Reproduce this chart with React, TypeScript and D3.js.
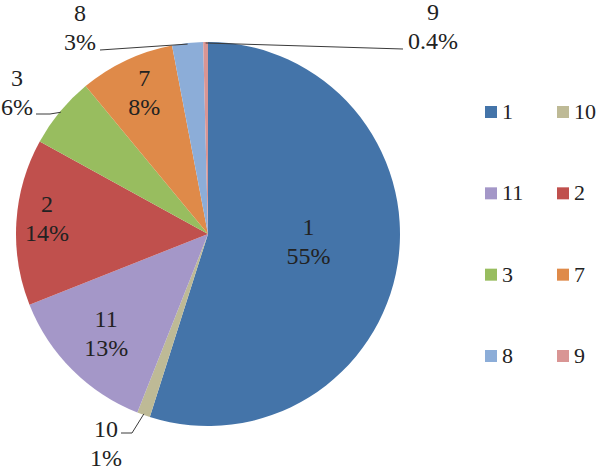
import React, { useEffect } from 'react'
import * as d3 from 'd3'

// slice order = legend order (text sort)
const categories = ['1', '10', '11', '2', '3', '7', '8', '9']
const shares = [54.9, 1.1, 13.0, 14.0, 6.0, 8.0, 2.6, 0.4]
const colors = ['#4474A9', '#BEBA96', '#A497C8', '#C0504D', '#98BD5F', '#DF8A49', '#8CADD8', '#D99594']

const width = 600
const height = 472
const cx = 208
const cy = 234
const radius = 192
const font = "'Liberation Serif', 'Times New Roman', Times, serif"

// where each label sits: inside ones by radius factor, outside ones at a fixed spot with a leader
const labelLayout: Record<string, any> = {
    '1': { k: 0.53, dy: -8 },
    '11': { k: 0.75, dy: -2 },
    '2': { k: 0.84, dy: -5 },
    '7': { k: 0.78, dy: -5 },
    '3': { out: [17, 86], leader: [[36, 114], [50, 114]] },
    '8': { out: [80, 21], leader: [[100, 50]] },
    '9': { out: [433, 20], leader: [[403, 49]] },
    '10': { out: [106, 437], leader: [[121, 433], [132, 433]] },
}

function pctText(v: number, total: number) {
    const p = v / total * 100
    return (p < 1 ? d3.format('.1f')(p) : d3.format('.0f')(p)) + '%'
}

export default function App() {
    useEffect(() => {
        document.body.style.margin = '0'
    }, [])

    const total = d3.sum(shares)
    const pie = d3.pie<number>().sort(null).value(d => d)
    const arcs = pie(shares)
    const arc = d3.arc<any>().innerRadius(0).outerRadius(radius)
    const edge = d3.arc<any>().innerRadius(radius - 1).outerRadius(radius - 1)

    const color = d3.scaleOrdinal<string, string>().domain(categories).range(colors)

    const legendCol = d3.scalePoint<number>().domain([0, 1]).range([485, 557])
    const legendRow = d3.scalePoint<number>().domain([0, 1, 2, 3]).range([112, 356])

    const lineGap = 29
    const txtStyle = { fontFamily: font, fontSize: 24, fill: '#222' }

    return (
        <svg width={width} height={height} style={{ display: 'block', background: '#fff' }}>
            <g transform={`translate(${cx},${cy})`}>
                {arcs.map((a, i) => (
                    <path key={categories[i]} d={arc(a) as string} fill={color(categories[i])} />
                ))}
            </g>

            {arcs.map((a, i) => {
                const cat = categories[i]
                const lay = labelLayout[cat]
                const txt = pctText(shares[i], total)
                if (lay.out) {
                    const [ex, ey] = edge.centroid(a)
                    const pts = [...lay.leader, [cx + ex, cy + ey]]
                    return (
                        <g key={'l' + cat}>
                            <path d={d3.line()(pts as [number, number][]) as string} fill="none" stroke="#3a3a3a" strokeWidth={1} />
                            <text x={lay.out[0]} y={lay.out[1]} textAnchor="middle" style={txtStyle}>
                                <tspan x={lay.out[0]}>{cat}</tspan>
                                <tspan x={lay.out[0]} dy={lineGap}>{txt}</tspan>
                            </text>
                        </g>
                    )
                }
                const mid = (a.startAngle + a.endAngle) / 2
                const r = radius * lay.k
                const x = cx + Math.sin(mid) * r
                const y = cy - Math.cos(mid) * r + lay.dy
                return (
                    <text key={'l' + cat} x={x} y={y - 7} textAnchor="middle" style={txtStyle}>
                        <tspan x={x}>{cat}</tspan>
                        <tspan x={x} dy={lineGap}>{txt}</tspan>
                    </text>
                )
            })}

            {categories.map((c, i) => {
                const x = legendCol(i % 2) as number
                const y = legendRow(Math.floor(i / 2)) as number
                return (
                    <g key={'lg' + c}>
                        <rect x={x} y={y - 6} width={12} height={12} fill={color(c)} />
                        <text x={x + 17} y={y + 7} style={{ ...txtStyle, fontSize: 22 }}>{c}</text>
                    </g>
                )
            })}
        </svg>
    )
}
